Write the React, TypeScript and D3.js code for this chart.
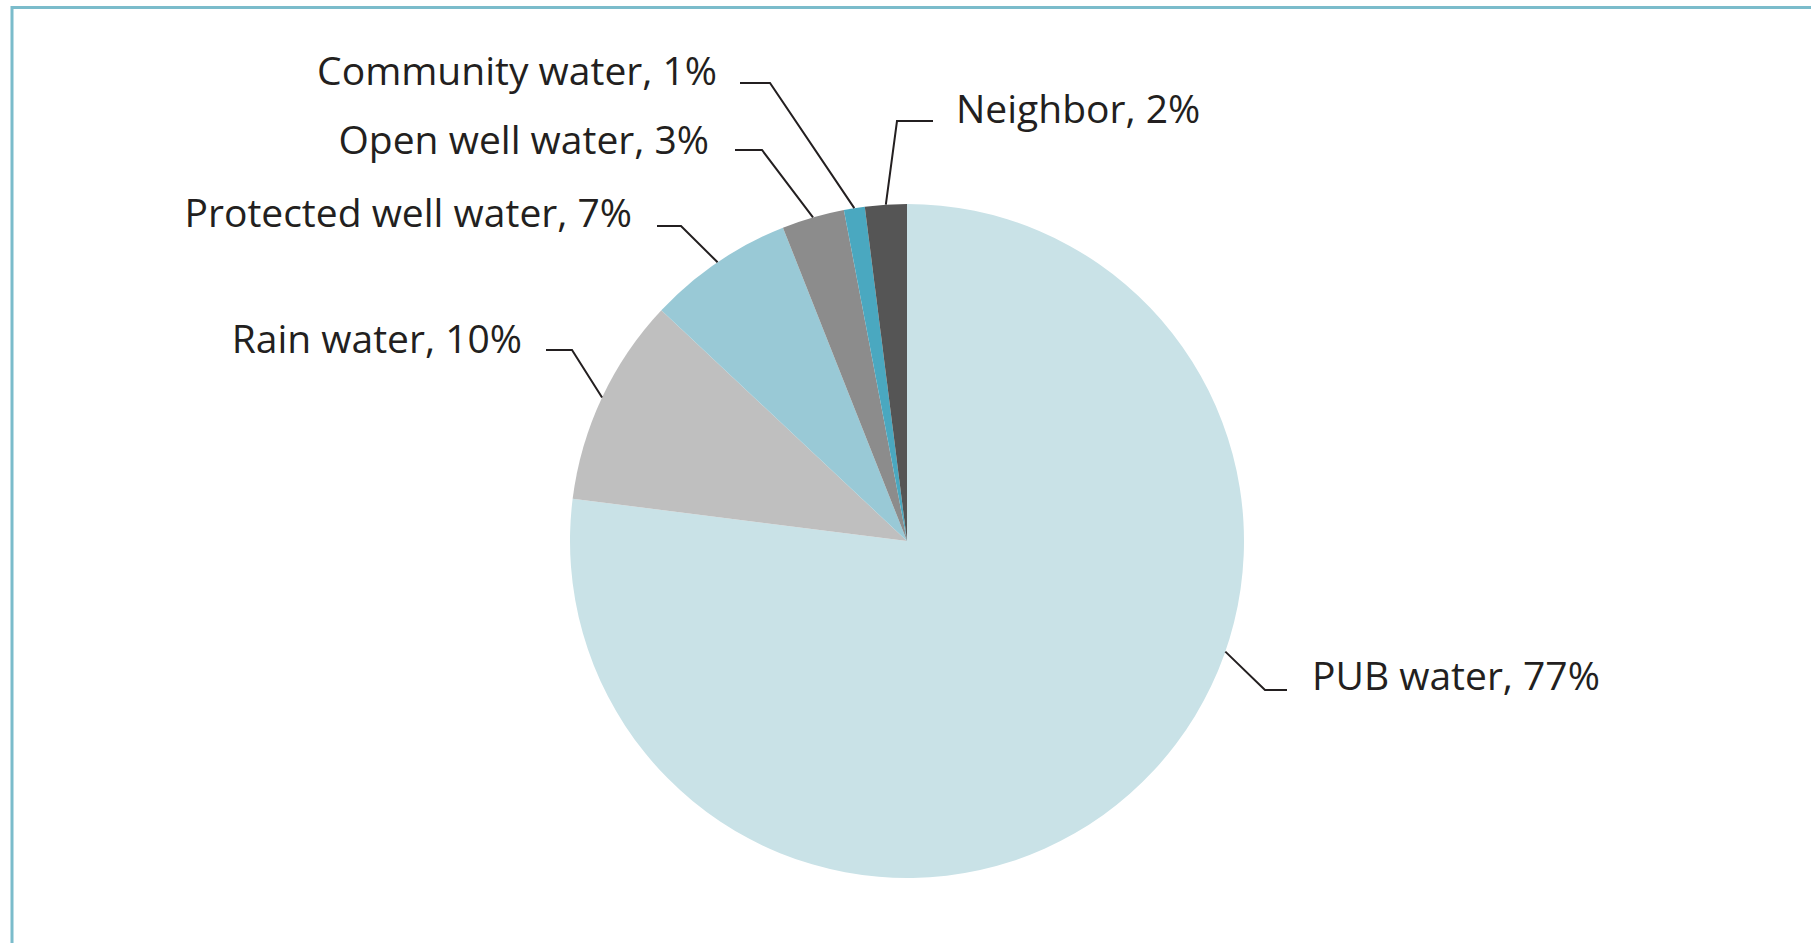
import React from "react";
import * as d3 from "d3";

// Data
const categories = [
  "PUB water",
  "Rain water",
  "Protected well water",
  "Open well water",
  "Community water",
  "Neighbor",
];
const values = [77, 10, 7, 3, 1, 2];
const colors = ["#c9e2e7", "#bfbfbf", "#99c9d6", "#8c8c8c", "#4aa8c0", "#555555"];

// Label layout (text anchor position, side, and horizontal leader segment)
const labelX = [1312, 522, 632, 709, 717, 956];
const labelY = [690, 353, 227, 154, 85, 123];
const labelAnchor = ["start", "end", "end", "end", "end", "start"];
const elbowX = [1265, 572, 681, 762, 770, 897];
const elbowEndX = [1287, 546, 657, 735, 740, 933];
const elbowY = [690, 350, 226, 150, 83, 121];

const W = 1811;
const H = 943;
const CX = 907;
const CY = 541;
const R = 337;

export default function App() {
  const pie = d3
    .pie<number>()
    .sort(null)
    .value((d) => d);
  const arcs = pie(values);
  const arcGen = d3.arc<d3.PieArcDatum<number>>().innerRadius(0).outerRadius(R);

  return (
    <svg
      width={W}
      height={H}
      style={{ position: "fixed", left: 0, top: 0, background: "#ffffff" }}
    >
      <rect x={0} y={0} width={W} height={H} fill="#ffffff" />
      {/* frame */}
      <path
        d={`M ${12} ${H} L ${12} ${7.5} L ${W} ${7.5}`}
        fill="none"
        stroke="#7bbccb"
        strokeWidth={3}
      />
      <g transform={`translate(${CX},${CY})`}>
        {arcs.map((a, i) => (
          <path key={i} d={arcGen(a) || ""} fill={colors[i]} stroke="none" />
        ))}
      </g>
      {arcs.map((a, i) => {
        const frac = (a.endAngle - a.startAngle) / (2 * Math.PI);
        let ang = (a.startAngle + a.endAngle) / 2;
        if (frac > 0.5) {
          ang = Math.atan2(elbowX[i] - CX, -(elbowY[i] - CY)) - 0.06;
        }
        const px = CX + R * Math.sin(ang);
        const py = CY - R * Math.cos(ang);
        const d = `M ${elbowEndX[i]} ${elbowY[i]} L ${elbowX[i]} ${elbowY[i]} L ${px} ${py}`;
        return (
          <g key={"l" + i}>
            <path d={d} fill="none" stroke="#231f20" strokeWidth={2} />
            <text
              x={labelX[i]}
              y={labelY[i]}
              textAnchor={labelAnchor[i] as any}
              fontFamily="'Open Sans', sans-serif"
              fontSize={39}
              fill="#231f20"
            >
              {`${categories[i]}, ${values[i]}%`}
            </text>
          </g>
        );
      })}
    </svg>
  );
}
